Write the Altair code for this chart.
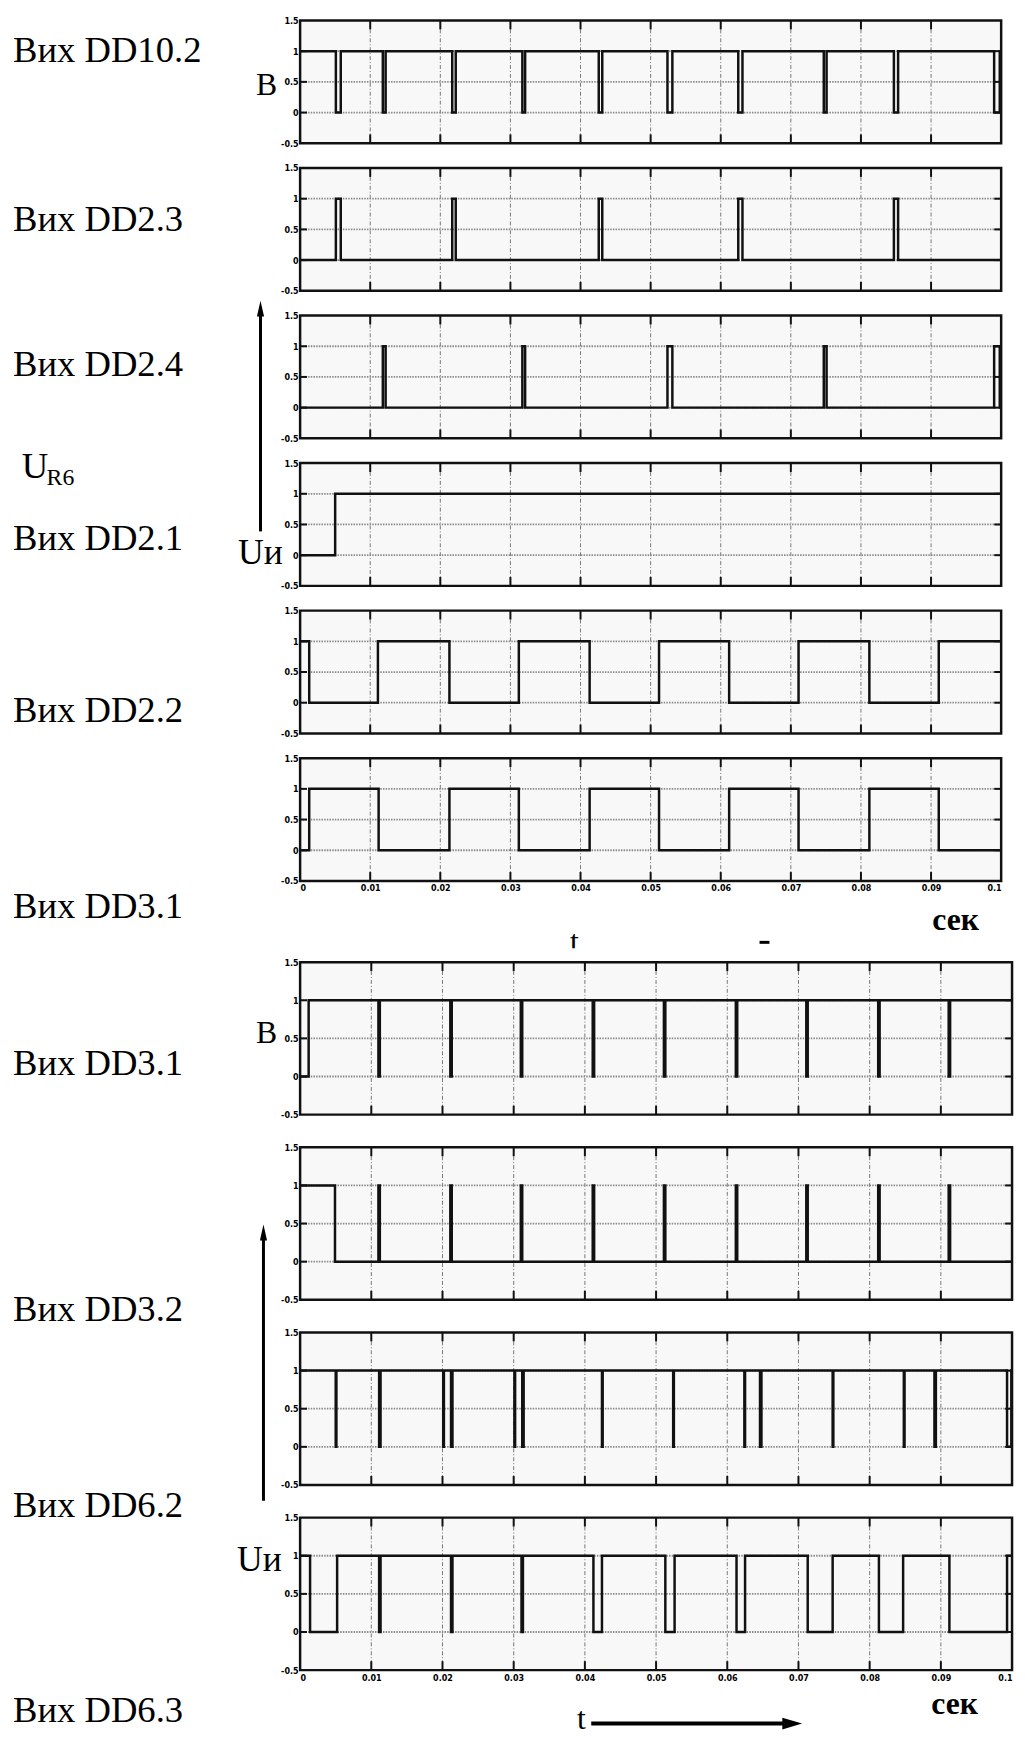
import altair as alt
import pandas as pd

# ---------------- data ----------------
T_END = 0.1
X_TICKS = [0.0, 0.01, 0.02, 0.03, 0.04, 0.05, 0.06, 0.07, 0.08, 0.09, 0.1]
GRID_X = [0.01, 0.02, 0.03, 0.04, 0.05, 0.06, 0.07, 0.08, 0.09]
GRID_Y = [0.0, 0.5, 1.0]
Y_TICKS = [-0.5, 0.0, 0.5, 1.0, 1.5]

# each signal: starting level and the times at which it toggles (s)
DD10_2_start = 1
DD10_2_toggles = [0.0051, 0.0058, 0.0118, 0.0122, 0.0217, 0.0222, 0.0317, 0.0321,
                  0.0426, 0.0431, 0.0524, 0.0531, 0.0625, 0.0631, 0.0747, 0.0751,
                  0.0847, 0.0853, 0.0990, 0.0998]
DD2_3_start = 0
DD2_3_toggles = [0.0051, 0.0058, 0.0217, 0.0222, 0.0426, 0.0431, 0.0625, 0.0631,
                 0.0847, 0.0853]
DD2_4_start = 0
DD2_4_toggles = [0.0118, 0.0122, 0.0317, 0.0321, 0.0524, 0.0531, 0.0747, 0.0751,
                 0.0990, 0.0998]
DD2_1_start = 0
DD2_1_toggles = [0.0050]
DD2_2_start = 1
DD2_2_toggles = [0.0013, 0.0111, 0.0213, 0.0312, 0.0413, 0.0512, 0.0612, 0.0711,
                 0.0812, 0.0911]
DD3_1a_start = 0
DD3_1a_toggles = [0.0013, 0.0112, 0.0213, 0.0312, 0.0413, 0.0512, 0.0612, 0.0711,
                  0.0812, 0.0911]
DD3_1b_start = 0
DD3_1b_toggles = [0.0012, 0.0110, 0.0112, 0.0211, 0.0213, 0.0310, 0.0312, 0.0411,
                  0.0413, 0.0511, 0.0513, 0.0612, 0.0614, 0.0711, 0.0713, 0.0812,
                  0.0814, 0.0911, 0.0913]
DD3_2_start = 1
DD3_2_toggles = [0.0049, 0.0110, 0.0112, 0.0211, 0.0213, 0.0310, 0.0312, 0.0411,
                 0.0413, 0.0511, 0.0513, 0.0612, 0.0614, 0.0711, 0.0713, 0.0812,
                 0.0814, 0.0911, 0.0913]
DD6_2_start = 1
DD6_2_toggles = [0.0050, 0.0051, 0.0111, 0.0113, 0.0201, 0.0202, 0.0212, 0.0214,
                 0.0301, 0.0302, 0.0312, 0.0314, 0.0424, 0.0425, 0.0524, 0.0525,
                 0.0624, 0.0625, 0.0646, 0.0648, 0.0748, 0.0749, 0.0848, 0.0849,
                 0.0891, 0.0893, 0.0993, 0.0999]
DD6_3_start = 1
DD6_3_toggles = [0.0014, 0.0052, 0.0111, 0.0113, 0.0212, 0.0214, 0.0311, 0.0313,
                 0.0412, 0.0424, 0.0513, 0.0526, 0.0613, 0.0625, 0.0713, 0.0748,
                 0.0813, 0.0847, 0.0912, 0.0993]

LABELS = ["Вих DD10.2", "Вих DD2.3", "Вих DD2.4", "Вих DD2.1", "Вих DD2.2",
          "Вих DD3.1", "Вих DD3.1", "Вих DD3.2", "Вих DD6.2", "Вих DD6.3"]


def steps(start, toggles):
    rows = [{"t": 0.0, "v": start}]
    v = start
    for t in toggles:
        v = 1 - v
        rows.append({"t": t, "v": v})
    rows.append({"t": T_END, "v": v})
    return pd.DataFrame(rows)


ONE = pd.DataFrame({"k": [0]})
TICK_FONT = "DejaVu Sans Condensed"
SERIF = "Liberation Serif"


def text(s, x, y, size, align="left", weight="normal", baseline="middle"):
    return alt.Chart(ONE).mark_text(
        text=s, font=SERIF, fontSize=size, fontWeight=weight, align=align,
        baseline=baseline, color="#000"
    ).encode(x=alt.value(x), y=alt.value(y))


def varrow(x, y_bottom, y_tip):
    line = alt.Chart(ONE).mark_rule(color="#000", strokeWidth=3).encode(
        x=alt.value(x), y=alt.value(y_bottom), y2=alt.value(y_tip + 12))
    head = alt.Chart(ONE).mark_point(
        shape="M0,-1L0.45,1L-0.45,1Z", filled=True, fill="#000", opacity=1,
        size=256, strokeWidth=0
    ).encode(x=alt.value(x), y=alt.value(y_tip + 8))
    return [line, head]


def harrow(x0, x_tip, y):
    line = alt.Chart(ONE).mark_rule(color="#000", strokeWidth=4).encode(
        x=alt.value(x0), x2=alt.value(x_tip - 14), y=alt.value(y))
    head = alt.Chart(ONE).mark_point(
        shape="M1,0L-1,0.6L-1,-0.6Z", filled=True, fill="#000", opacity=1,
        size=400, strokeWidth=0
    ).encode(x=alt.value(x_tip - 10), y=alt.value(y))
    return [line, head]


def panel(df, W, h, H, show_x, annots):
    xs = alt.Scale(domain=[0, T_END], nice=False, zero=False)
    ys = alt.Scale(domain=[-0.5, 1.5], range=[h, 0], nice=False, zero=False)
    gx = pd.DataFrame({"t": GRID_X})
    gy = pd.DataFrame({"v": GRID_Y})
    if show_x:
        xaxis = alt.Axis(values=X_TICKS, ticks=False, domain=False, grid=False,
                         title=None, labelFont=TICK_FONT, labelFontSize=9,
                         labelFontWeight="bold", labelColor="#000",
                         labelPadding=3, labelFlush=True, offset=-(H - h),
                         labelExpr="format(datum.value, '~g')")
    else:
        xaxis = None
    yaxis = alt.Axis(values=Y_TICKS, ticks=False, domain=False, grid=False,
                     title=None, labelFont=TICK_FONT, labelFontSize=9,
                     labelFontWeight="bold", labelColor="#000", labelPadding=2,
                     labelExpr="replace(format(datum.value, '~g'), '\u2212', '-')")
    X = alt.X("t:Q", scale=xs, axis=xaxis)
    Y = alt.Y("v:Q", scale=ys, axis=yaxis)
    bg = alt.Chart(ONE).mark_rect(fill="#f8f8f8").encode(
        x=alt.value(0), x2=alt.value(W), y=alt.value(0), y2=alt.value(h))
    vgrid = alt.Chart(gx).mark_rule(color="#777", strokeWidth=1,
                                    strokeDash=[4, 2, 1, 2]).encode(
        x=X, y=alt.value(0), y2=alt.value(h))
    hgrid = alt.Chart(gy).mark_rule(color="#8a8a8a", strokeWidth=1.8,
                                    strokeDash=[1.5, 1.2]).encode(
        y=Y, x=alt.value(0), x2=alt.value(W))
    ttop = alt.Chart(gx).mark_rule(color="#111", strokeWidth=2).encode(
        x=X, y=alt.value(0), y2=alt.value(9))
    tbot = alt.Chart(gx).mark_rule(color="#111", strokeWidth=2).encode(
        x=X, y=alt.value(h), y2=alt.value(h - 9))
    tleft = alt.Chart(gy).mark_rule(color="#111", strokeWidth=2).encode(
        y=Y, x=alt.value(0), x2=alt.value(7))
    tright = alt.Chart(gy).mark_rule(color="#111", strokeWidth=2).encode(
        y=Y, x=alt.value(W), x2=alt.value(W - 7))
    sig = alt.Chart(df).mark_line(interpolate="step-after", color="#111",
                                  strokeWidth=2.5).encode(x=X, y=Y)
    frame = alt.Chart(ONE).mark_rect(fillOpacity=0, stroke="#111",
                                     strokeWidth=2.5).encode(
        x=alt.value(0), x2=alt.value(W), y=alt.value(0), y2=alt.value(h))
    layers = [bg, vgrid, hgrid, ttop, tbot, tleft, tright, sig, frame] + annots
    return alt.layer(*layers).properties(width=W, height=H)


# ---------------- layout ----------------
W1, W2 = 708, 719
h1, h2 = 124, 154
LX = -290          # left text column, relative to plot left
LS = 37            # label font size

p1 = panel(steps(DD10_2_start, DD10_2_toggles), W1, h1, 149, False,
           [text(LABELS[0], LX, 31, LS), text("B", -34, 65, 32, align="center")])
p2 = panel(steps(DD2_3_start, DD2_3_toggles), W1, h1, 149, False,
           [text(LABELS[1], LX, 53, LS)])
p3 = panel(steps(DD2_4_start, DD2_4_toggles), W1, h1, 149, False,
           [text(LABELS[2], LX, 50, LS)])
p4 = panel(steps(DD2_1_start, DD2_1_toggles), W1, h1, 149, False,
           [text("U", -281, 15, LS, baseline="alphabetic"),
            text("R6", -256, 22, 24, baseline="alphabetic"),
            text(LABELS[3], LX, 77, LS),
            text("Uи", -40, 91, 36, align="center")]
           + varrow(-40, 69, -164))
p5 = panel(steps(DD2_2_start, DD2_2_toggles), W1, h1, 149, False,
           [text(LABELS[4], LX, 101, LS)])
p6 = panel(steps(DD3_1a_start, DD3_1a_toggles), W1, h1, 206, True,
           [text(LABELS[5], LX, 150, LS),
            text("сек", 662, 174, 32, align="center", weight="bold",
                 baseline="alphabetic"),
            text("t", 277, 186, 32, align="center"),
            alt.Chart(ONE).mark_rule(color="#000", strokeWidth=3).encode(
                x=alt.value(464), x2=alt.value(474), y=alt.value(186))])
p7 = panel(steps(DD3_1b_start, DD3_1b_toggles), W2, h2, 187, False,
           [alt.Chart(ONE).mark_rect(fill="white").encode(
                x=alt.value(250), x2=alt.value(500),
                y=alt.value(-14), y2=alt.value(-7)),
            text(LABELS[6], LX, 103, LS), text("B", -34, 72, 32, align="center")])
p8 = panel(steps(DD3_2_start, DD3_2_toggles), W2, h2, 187, False,
           [text(LABELS[7], LX, 164, LS)])
p9 = panel(steps(DD6_2_start, DD6_2_toggles), W2, h2, 187, False,
           [text(LABELS[8], LX, 175, LS)] + varrow(-37, 170, -109))
p10 = panel(steps(DD6_3_start, DD6_3_toggles), W2, h2, h2, True,
            [text("Uи", -41, 43, 36, align="center"),
             text(LABELS[9], LX, 195, LS),
             text("сек", 661, 198, 32, align="center", weight="bold",
                  baseline="alphabetic"),
             text("t", 284, 203, 32, align="center")]
            + harrow(294, 507, 208))

chart = alt.vconcat(p1, p2, p3, p4, p5, p6, p7, p8, p9, p10,
                    spacing=0, bounds="flush").properties(
    padding={"left": 5, "top": 0, "right": 0, "bottom": 0},
    background="white"
).configure_view(stroke=None, fill=None)

chart.save("out.html", embed_options={"renderer": "svg", "actions": False})
